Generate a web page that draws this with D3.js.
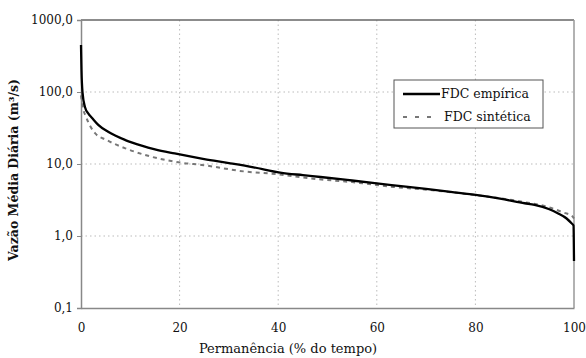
<!DOCTYPE html>
<html>
<head>
<meta charset="utf-8">
<script src="https://cdn.jsdelivr.net/npm/d3@7"></script>
<style>
  body { margin: 0; background: #fff; }
  text { font-family: "DejaVu Serif", "Liberation Serif", serif; fill: #111; }
</style>
</head>
<body>
<div id="chart"></div>
<script>
// dados: permanência (%) e vazão (m3/s)
const empX = [0, 0.1, 0.3, 0.8, 1.5, 2.2, 3.5, 5.5, 9, 12.3, 15, 19, 25, 30, 35, 40.4, 45, 48.6, 55, 63, 70, 75, 80.4, 85, 90, 92, 95, 96.7, 98.5, 99.5, 99.9, 100];
const empY = [450, 200, 100, 62, 50, 44, 35, 28, 21.5, 18, 16, 14, 11.7, 10.3, 9.0, 7.6, 7.0, 6.6, 5.9, 5.1, 4.5, 4.1, 3.7, 3.3, 2.85, 2.7, 2.35, 2.07, 1.75, 1.5, 1.4, 0.45];

const sinX = [0, 0.3, 1.1, 2.8, 5.2, 9, 13.6, 20.4, 24.5, 33, 40, 46.5, 55, 63.4, 70, 80, 90, 95, 98, 99.6, 100];
const sinY = [90, 65, 44, 27, 21.5, 16.5, 13, 10.4, 9.7, 7.9, 7.2, 6.3, 5.6, 4.8, 4.4, 3.7, 2.95, 2.5, 2.1, 1.9, 1.75];

const xTicks = [0, 20, 40, 60, 80, 100];
const yTicks = [0.1, 1, 10, 100, 1000];
const seriesNames = ["FDC empírica", "FDC sintética"];

const W = 586, H = 358;
const margin = { top: 20, right: 12, bottom: 50, left: 81 };
const width = W - margin.left - margin.right,
      height = H - margin.top - margin.bottom;

const svg = d3.select("#chart").append("svg")
  .attr("width", W).attr("height", H);
const g = svg.append("g")
  .attr("transform", "translate(" + margin.left + "," + margin.top + ")");

const x = d3.scaleLinear().domain([0, 100]).range([0, width]);
const y = d3.scaleLog().domain([0.1, 1000]).range([height, 0]);

// grade pontilhada
g.append("g").selectAll("line")
  .data(xTicks.slice(1, -1)).enter().append("line")
  .attr("x1", d => x(d)).attr("x2", d => x(d))
  .attr("y1", 0).attr("y2", height)
  .attr("stroke", "#bbb").attr("stroke-dasharray", "1.5,3");
g.append("g").selectAll("line")
  .data(yTicks.slice(1, -1)).enter().append("line")
  .attr("x1", 0).attr("x2", width)
  .attr("y1", d => y(d)).attr("y2", d => y(d))
  .attr("stroke", "#bbb").attr("stroke-dasharray", "1.5,3");

// moldura
g.append("line").attr("x1", 0).attr("x2", width).attr("y1", 0).attr("y2", 0)
  .attr("stroke", "#666").attr("stroke-width", 1.5);
g.append("line").attr("x1", width).attr("x2", width).attr("y1", 0).attr("y2", height)
  .attr("stroke", "#999").attr("stroke-width", 1.5);

// eixos
const fmt = d => d3.format(".1f")(d).replace(".", ",");
const yAxis = g.append("g")
  .call(d3.axisLeft(y).tickValues(yTicks).tickFormat(fmt).tickSize(4).tickPadding(4));
const xAxis = g.append("g").attr("transform", "translate(0," + height + ")")
  .call(d3.axisBottom(x).tickValues(xTicks).tickFormat(d3.format("d")).tickSize(0).tickPadding(15));
[xAxis, yAxis].forEach(a => {
  a.select(".domain").attr("stroke", "#888").attr("stroke-width", 1.5);
  a.selectAll(".tick line").attr("stroke", "#888");
  a.selectAll("text").attr("font-size", 12).attr("font-family", "DejaVu Serif").attr("fill", "#111");
});

// curvas
const line = d3.line().x(d => x(d[0])).y(d => y(d[1])).curve(d3.curveMonotoneX);
g.append("path").datum(d3.zip(sinX, sinY))
  .attr("d", line).attr("fill", "none")
  .attr("stroke", "#777").attr("stroke-width", 2).attr("stroke-dasharray", "4,4");
g.append("path").datum(d3.zip(empX, empY))
  .attr("d", line).attr("fill", "none")
  .attr("stroke", "#000").attr("stroke-width", 2.3);

// legenda
const leg = svg.append("g").attr("transform", "translate(394,80)");
leg.append("rect").attr("width", 149).attr("height", 48)
  .attr("fill", "#fff").attr("stroke", "#555");
leg.append("line").attr("x1", 9).attr("x2", 46).attr("y1", 14).attr("y2", 14)
  .attr("stroke", "#000").attr("stroke-width", 2.5);
leg.append("line").attr("x1", 9).attr("x2", 38).attr("y1", 37).attr("y2", 37)
  .attr("stroke", "#777").attr("stroke-width", 2).attr("stroke-dasharray", "4,8");
leg.append("text").attr("x", 47).attr("y", 18).attr("font-size", 12.5).text(seriesNames[0]);
leg.append("text").attr("x", 50).attr("y", 41).attr("font-size", 12.5).text(seriesNames[1]);

// títulos dos eixos
svg.append("text").attr("x", 288).attr("y", 353).attr("text-anchor", "middle")
  .attr("font-size", 13).text("Permanência (% do tempo)");
svg.append("text").attr("transform", "translate(18,170) rotate(-90)")
  .attr("text-anchor", "middle").attr("font-size", 12.5).attr("font-weight", "bold")
  .text("Vazão Média Diária (m³/s)");
</script>
</body>
</html>
